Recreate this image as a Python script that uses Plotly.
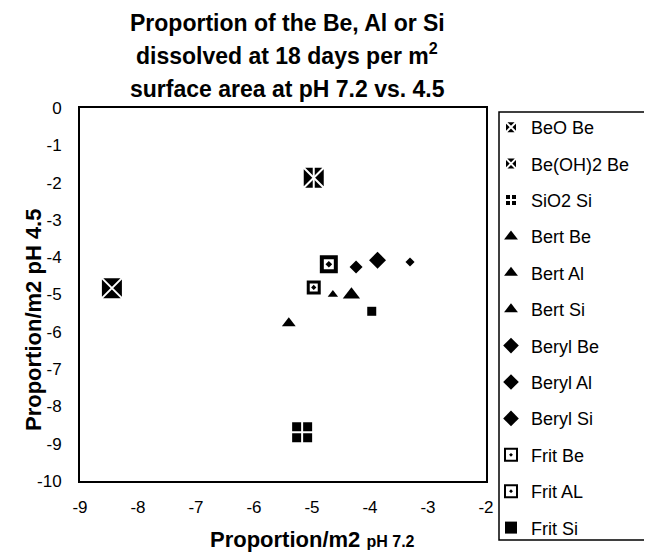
import plotly.graph_objects as go

# ---- data ----
series_names = ["BeO Be", "Be(OH)2 Be", "SiO2 Si", "Bert Be", "Bert Al", "Bert Si",
                "Beryl Be", "Beryl Al", "Beryl Si", "Frit Be", "Frit AL", "Frit Si"]
x_ph72 = [-8.45, -4.97, -5.17, -5.40, -4.32, -4.64, -4.24, -3.87, -3.31, -4.97, -4.71, -3.97]
y_ph45 = [-4.83, -1.87, -8.69, -5.77, -5.01, -5.00, -4.26, -4.08, -4.13, -4.81, -4.19, -5.45]
x_ticks = [-9, -8, -7, -6, -5, -4, -3, -2]
x_tick_text = ["-9", "-8", "-7", "-6", "-5", "-4", "-3", "-2"]
y_ticks = [0, -1, -2, -3, -4, -5, -6, -7, -8, -9, -10]
y_tick_text = ["0", "-1", "-2", "-3", "-4", "-5", "-6", "-7", "-8", "-9", "-10"]

# ---- styles (symbol, size, fill, line colour, line width) ----
styles = [
    ("square-x", 22, "black", "white", 2),
    ("square-x", 22, "black", "white", 2),
    ("square-cross", 22, "black", "white", 2),
    ("triangle-up", 12, "black", "black", 0),
    ("triangle-up", 15, "black", "black", 0),
    ("triangle-up", 9, "black", "black", 0),
    ("diamond", 10, "black", "black", 0),
    ("diamond", 13, "black", "black", 0),
    ("diamond", 7, "black", "black", 0),
    ("square-open-dot", 11, "black", "black", 3),
    ("square-open-dot", 14, "black", "black", 4),
    ("square", 9, "black", "black", 0),
]

FONT = "Liberation Sans, Arial, sans-serif"
OFF = 8                      # page body margin of the browser
W, H = 652 - OFF, 555 - OFF  # visible area

fig = go.Figure()
for i, name in enumerate(series_names):
    sym, size, fill, lc, lw = styles[i]
    fig.add_trace(go.Scatter(
        x=[x_ph72[i]], y=[y_ph45[i]], mode="markers", name=name,
        legendgroup=name,
        marker=dict(symbol=sym, size=size, color=fill,
                    line=dict(color=lc, width=lw)),
    ))
    if name == "Be(OH)2 Be":
        fig.add_trace(go.Scatter(
            x=[x_ph72[i]], y=[y_ph45[i]], mode="markers", showlegend=False,
            legendgroup=name, hoverinfo="skip",
            marker=dict(symbol="line-ns", size=18, color="white",
                        line=dict(color="white", width=2)),
        ))

# plot area in reference-pixel coordinates
L, R, T, B = 80, 486, 108, 481
def px(xp):
    return (xp - L) / (R - L)
def py(yp):
    return (B - yp) / (B - T)

title_lines = ["Proportion of the Be, Al or Si",
               "dissolved at 18 days per m<sup>2</sup>",
               "surface area at pH 7.2 vs. 4.5"]
title_y = [23, 54, 89]
annotations = []
for t, yy in zip(title_lines, title_y):
    annotations.append(dict(text="<b>" + t + "</b>", xref="paper", yref="paper",
                            x=px(287), y=py(yy), xanchor="center", yanchor="middle",
                            showarrow=False, font=dict(size=23, color="black", family=FONT)))
annotations.append(dict(text="<b>Proportion/m2 <span style='font-size:16px'>pH 7.2</span></b>",
                        xref="paper", yref="paper", x=px(312), y=py(539),
                        xanchor="center", yanchor="middle", showarrow=False,
                        font=dict(size=22, color="black", family=FONT)))
annotations.append(dict(text="<b>Proportion/m2 pH 4.5</b>", textangle=-90,
                        xref="paper", yref="paper", x=px(33), y=py(320),
                        xanchor="center", yanchor="middle", showarrow=False,
                        font=dict(size=22, color="black", family=FONT)))

fig.update_layout(
    width=W, height=H,
    margin=dict(l=L - OFF, r=W - (R - OFF), t=T - OFF, b=H - (B - OFF), pad=0,
                autoexpand=False),
    paper_bgcolor="white", plot_bgcolor="white",
    font=dict(family=FONT, size=16, color="black"),
    showlegend=True,
    legend=dict(xref="container", yref="container",
                x=(491 - OFF) / W, y=1 - (109 - OFF) / H, xanchor="left", yanchor="top",
                bgcolor="rgba(0,0,0,0)", borderwidth=0, maxheight=H,
                font=dict(size=18, family=FONT, color="black"),
                traceorder="grouped", tracegroupgap=10, itemsizing="constant"),
    xaxis=dict(range=[-9, -2], tickvals=x_ticks, ticktext=x_tick_text,
               showgrid=False, zeroline=False,
               showline=True, linecolor="black", linewidth=2, mirror=True,
               ticks="", ticklabelstandoff=10, tickfont=dict(size=17)),
    xaxis2=dict(range=[-9, -2], tickvals=x_ticks, overlaying="x", side="top",
                showgrid=False, zeroline=False, showline=False, ticks="inside",
                ticklen=5, tickcolor="black", tickwidth=1.5, showticklabels=False),
    yaxis=dict(range=[-10, 0], tickvals=y_ticks, ticktext=y_tick_text,
               showgrid=False, zeroline=False,
               showline=True, linecolor="black", linewidth=2, mirror=True,
               ticks="", ticklabelstandoff=13, tickfont=dict(size=17)),
    annotations=annotations,
    shapes=[dict(type="rect", xref="paper", yref="paper",
                 x0=px(499), x1=px(650), y0=py(540), y1=py(112),
                 line=dict(color="black", width=1.5), fillcolor="rgba(0,0,0,0)")],
)

fig.write_html("out.html")
